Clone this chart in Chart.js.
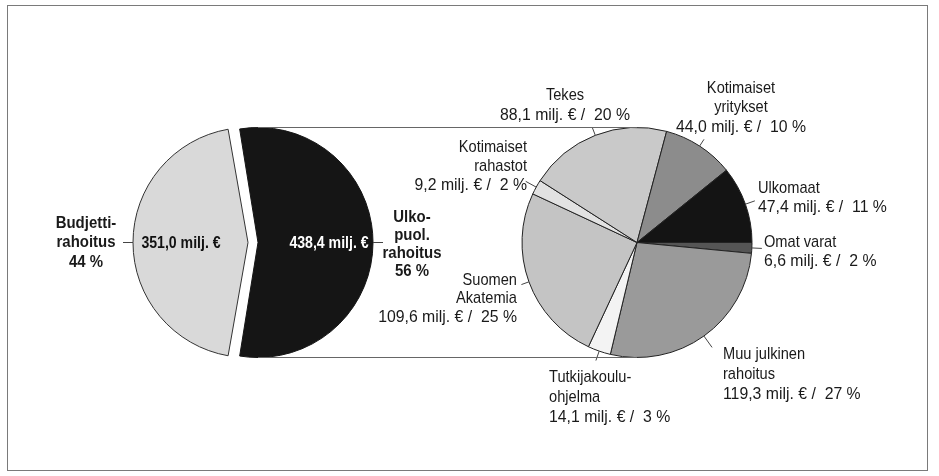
<!DOCTYPE html>
<html>
<head>
<meta charset="utf-8">
<script src="https://cdn.jsdelivr.net/npm/chart.js@4.4.1/dist/chart.umd.min.js"></script>
<style>
  html, body { margin: 0; padding: 0; background: #fff; }
  #wrap { position: relative; width: 939px; height: 476px; }
  #frame { position: absolute; left: 7px; top: 5px; width: 919px; height: 464px; border: 1.5px solid #7a7a7a; }
  canvas { position: absolute; left: 0; top: 0; }
</style>
</head>
<body>
<div id="wrap">
  <div id="frame"></div>
  <canvas id="leftPie" width="939" height="476"></canvas>
  <canvas id="rightPie" width="939" height="476"></canvas>
</div>
<script>
// budjettirahoitus vs. ulkopuolinen rahoitus
const leftLabels = ['Budjetti-\nrahoitus', 'Ulko-\npuol.\nrahoitus'];
const leftValues = [351.0, 438.4];
const leftPercents = [44, 56];
const leftColors = ['#d9d9d9', '#151515'];

// ulkopuolisen rahoituksen lahteet, myotapaivaan klo 3:sta alkaen
const rightLabels = ['Omat varat', 'Muu julkinen\nrahoitus', 'Tutkijakoulu-\nohjelma', 'Suomen\nAkatemia',
  'Kotimaiset\nrahastot', 'Tekes', 'Kotimaiset\nyritykset', 'Ulkomaat'];
const rightValues = [6.6, 119.3, 14.1, 109.6, 9.2, 88.1, 44.0, 47.4];
const rightPercents = [2, 27, 3, 25, 2, 20, 10, 11];
const rightColors = ['#555555', '#9a9a9a', '#f3f3f3', '#c4c4c4', '#e2e2e2', '#c9c9c9', '#8c8c8c', '#141414'];

const FONT = '"Liberation Sans", Arial, sans-serif';
// kapea kirjasin: vaakaskaalaus (lihavoitu, arvo lohkossa, nimirivit, arvorivi)
const NARROW_BOLD = 0.88, NARROW_INNER = 0.83, NARROW_NAME = 0.86, NARROW_VALUE = 0.93;

// tekstien paikat (x, y = ensimmaisen rivin keskikohta)
const leftLayout = [
  { x: 86, y: 223, align: 'center', lh: 19.5, lead: 10, vx: 181, vy: 243, vcolor: '#111' },
  { x: 412, y: 217, align: 'center', lh: 18, lead: 10, vx: 329, vy: 243, vcolor: '#fff' }
];
const rightLayout = [
  { x: 764, y: 242, align: 'left', lh: 19, lead: 10 },
  { x: 723, y: 354, align: 'left', lh: 20, lead: 14 },
  { x: 549, y: 377, align: 'left', lh: 20, lead: 10 },
  { x: 517, y: 280, align: 'right', lh: 18.5, lead: 8 },
  { x: 527, y: 147, align: 'right', lh: 19, lead: 12 },
  { x: 565, y: 95, align: 'center', lh: 20, lead: 8 },
  { x: 741, y: 88, align: 'center', lh: 19.5, lead: 8 },
  { x: 758, y: 188, align: 'left', lh: 19, lead: 10 }
];

function euro(v) {
  return v.toFixed(1).replace('.', ',') + ' milj. \u20ac';
}

function narrowText(ctx, t, x, y, sx) {
  ctx.save();
  ctx.translate(x, y);
  ctx.scale(sx, 1);
  ctx.fillText(t, 0, 0);
  ctx.restore();
}

// offset siirtaa lohkoa; kasvattaa myos sadetta, joka korjataan pois
function offsetGrowth(arc) {
  const off = (arc.options.offset || 0) / 4;
  return off * (1 - Math.sin(Math.min(Math.PI, arc.circumference)));
}

function arcCenter(arc) {
  const mid = (arc.startAngle + arc.endAngle) / 2;
  const shift = (arc.options.offset || 0) / 4;
  return { x: arc.x + Math.cos(mid) * shift, y: arc.y + Math.sin(mid) * shift, mid: mid,
    r: arc.outerRadius + offsetGrowth(arc) };
}

const offsetFix = {
  id: 'offsetFix',
  afterDatasetsUpdate(chart) {
    chart.getDatasetMeta(0).data.forEach(arc => { arc.outerRadius -= offsetGrowth(arc); });
  }
};

function makeCallouts(id, layout, linesFor, bold, withValue) {
  return {
    id: id,
    afterDatasetsDraw(chart) {
      const ctx = chart.ctx;
      const arcs = chart.getDatasetMeta(0).data;
      ctx.save();
      arcs.forEach((arc, i) => {
        const L = layout[i];
        const c = arcCenter(arc);
        const sx = c.x + Math.cos(c.mid) * c.r, sy = c.y + Math.sin(c.mid) * c.r;
        ctx.strokeStyle = '#444';
        ctx.lineWidth = 1;
        ctx.beginPath();
        ctx.moveTo(sx, sy);
        ctx.lineTo(sx + Math.cos(c.mid) * L.lead, sy + Math.sin(c.mid) * L.lead);
        ctx.stroke();

        ctx.font = (bold ? 'bold ' : '') + '17px ' + FONT;
        ctx.fillStyle = '#1a1a1a';
        ctx.textAlign = L.align;
        ctx.textBaseline = 'middle';
        const lines = linesFor(i);
        lines.forEach((t, k) => {
          const scale = bold ? NARROW_BOLD : (k === lines.length - 1 ? NARROW_VALUE : NARROW_NAME);
          narrowText(ctx, t, L.x, L.y + k * L.lh, scale);
        });

        if (withValue) {
          ctx.fillStyle = L.vcolor;
          ctx.textAlign = 'center';
          narrowText(ctx, euro(leftValues[i]), L.vx, L.vy, NARROW_INNER);
        }
      });
      ctx.restore();
    }
  };
}

const leftTotal = leftValues.reduce((a, b) => a + b, 0);
const leftChart = new Chart(document.getElementById('leftPie'), {
  type: 'pie',
  data: {
    labels: leftLabels,
    datasets: [{
      data: leftValues,
      backgroundColor: leftColors,
      borderColor: ['#333', '#151515'],
      borderWidth: 1,
      offset: [0, 40]
    }]
  },
  options: {
    responsive: false,
    animation: false,
    radius: 115,
    rotation: 270 - (leftValues[0] / leftTotal * 360) / 2,
    layout: { padding: { left: 0, right: 443, top: 9, bottom: 0 } },
    plugins: { legend: { display: false }, tooltip: { enabled: false } }
  },
  plugins: [offsetFix, makeCallouts('leftCallouts', leftLayout,
    i => leftLabels[i].split('\n').concat([leftPercents[i] + ' %']), true, true)]
});

const connectors = {
  id: 'connectors',
  afterDraw(chart) {
    const ctx = chart.ctx;
    const black = arcCenter(leftChart.getDatasetMeta(0).data[1]);
    const ra = chart.getDatasetMeta(0).data[0];
    ctx.save();
    ctx.strokeStyle = '#666';
    ctx.lineWidth = 1;
    ctx.beginPath();
    ctx.moveTo(black.x, black.y - black.r);
    ctx.lineTo(ra.x, ra.y - ra.outerRadius);
    ctx.moveTo(black.x, black.y + black.r);
    ctx.lineTo(ra.x, ra.y + ra.outerRadius);
    ctx.stroke();
    ctx.restore();
  }
};

new Chart(document.getElementById('rightPie'), {
  type: 'pie',
  data: {
    labels: rightLabels,
    datasets: [{
      data: rightValues,
      backgroundColor: rightColors,
      borderColor: '#222',
      borderWidth: 1
    }]
  },
  options: {
    responsive: false,
    animation: false,
    radius: 115,
    rotation: 90,
    layout: { padding: { left: 335, right: 0, top: 9, bottom: 0 } },
    plugins: { legend: { display: false }, tooltip: { enabled: false } }
  },
  plugins: [connectors, makeCallouts('rightCallouts', rightLayout,
    i => rightLabels[i].split('\n').concat([euro(rightValues[i]) + ' /  ' + rightPercents[i] + ' %']), false, false)]
});
</script>
</body>
</html>
